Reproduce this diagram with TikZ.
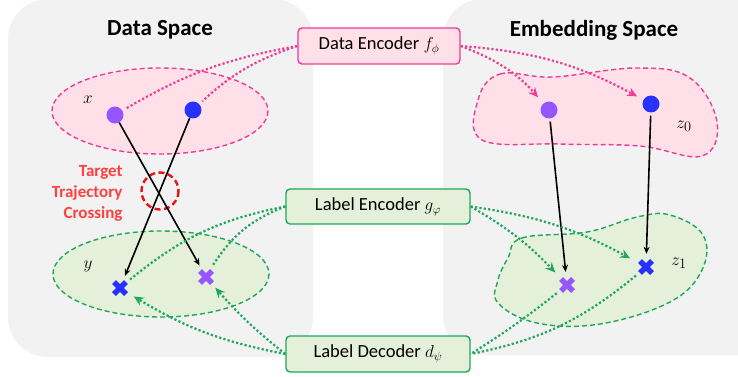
\documentclass[tikz,border=0pt]{standalone}
\usepackage{fontspec}
\setmainfont{Carlito}
\usetikzlibrary{arrows.meta}
\definecolor{panelgray}{RGB}{242,242,242}
\definecolor{pinkline}{RGB}{240,60,150}
\definecolor{pinkfill}{RGB}{255,224,233}
\definecolor{greenline}{RGB}{30,168,90}
\definecolor{greenfill}{RGB}{228,240,218}
\definecolor{redtext}{RGB}{255,64,64}
\definecolor{redcirc}{RGB}{232,20,20}
\definecolor{dotpurple}{RGB}{150,85,255}
\definecolor{dotblue}{RGB}{40,50,255}
\tikzset{
  panel/.style={fill=panelgray, draw=none, rounded corners=40pt},
  title/.style={font=\fontsize{23}{27}\selectfont\bfseries},
  pinkbox/.style={draw=pinkline, fill=pinkfill, line width=1.4pt, rounded corners=4pt, font=\fontsize{18.5}{22}\selectfont, inner sep=0pt},
  greenbox/.style={draw=greenline, fill=greenfill, line width=1.4pt, rounded corners=4pt, font=\fontsize{18.5}{22}\selectfont, inner sep=0pt},
  pinkregion/.style={draw=pinkline, fill=pinkfill, line width=1.4pt, dash pattern=on 5pt off 3pt},
  greenregion/.style={draw=greenline, fill=greenfill, line width=1.4pt, dash pattern=on 5pt off 3pt},
  dotnode/.style={circle, fill=#1, minimum size=17pt, inner sep=0pt},
  crossnode/.style={circle, minimum size=26pt, inner sep=0pt},
  pdot/.style={draw=pinkline, line width=2.2pt, dash pattern=on 2.2pt off 2.2pt},
  gdot/.style={draw=greenline, line width=2.2pt, dash pattern=on 2.2pt off 2.2pt},
  tip/.style={-{Stealth[length=10pt,width=9pt,inset=3.5pt]}},
  traj/.style={black, line width=1.6pt, -{Stealth[length=7pt,width=6pt]}},
  mathlbl/.style={font=\fontsize{19}{22}\selectfont},
}
\newcommand{\crossat}[2]{\draw[line width=5.4pt,#2] ([shift={(-6,-6)}]#1.center) -- ([shift={(6,6)}]#1.center) ([shift={(6,-6)}]#1.center) -- ([shift={(-6,6)}]#1.center);}
\begin{document}
\begin{tikzpicture}[x=1pt,y=-1pt]
\useasboundingbox (0,0) rectangle (738,377);
% panels
\fill[panel] (8,-1) rectangle (313,357);
\fill[panel] (443,-1) rectangle (780,355);
\node[title] (t1) at (160,30) {Data Space};
\node[title] (t2) at (594,30) {Embedding Space};
% regions
\draw[pinkregion] (160,111) ellipse [x radius=108, y radius=43];
\draw[greenregion] (161,274) ellipse [x radius=108, y radius=43];
\draw[pinkregion] plot[smooth cycle, tension=0.65] coordinates {(478,100) (500,74) (553,77) (637,68) (690,78) (717,122) (702,156) (640,146) (560,144) (482,140)};
\draw[greenregion] plot[smooth cycle, tension=0.65] coordinates {(508,258) (522,238) (587,232) (637,217) (670,215) (703,235) (702,270) (670,302) (600,324) (537,323) (498,303) (498,280)};
% labels
\node[mathlbl] (lx) at (88,100) {$x$};
\node[mathlbl] (ly) at (88,266) {$y$};
\node[mathlbl] (lz0) at (684,126) {$z_0$};
\node[mathlbl] (lz1) at (679,263) {$z_1$};
% red crossing
\draw[redcirc, line width=2.4pt, dash pattern=on 6pt off 3.5pt] (160,191) circle (18.5);
\node[anchor=east, align=right, text=redtext, font=\fontsize{17}{21}\selectfont\bfseries] (tc) at (126,193) {Target\\Trajectory\\Crossing};
% dots and crosses
\node[dotnode=dotpurple] (xp) at (115,115) {};
\node[dotnode=dotblue] (xb) at (193,110) {};
\node[dotnode=dotpurple] (zp) at (549,110) {};
\node[dotnode=dotblue] (zb) at (651,104) {};
\node[crossnode] (yp) at (206,277) {};
\node[crossnode] (yb) at (120,288) {};
\node[crossnode] (cp) at (567,285) {};
\node[crossnode] (cb) at (646,267) {};
\crossat{yp}{dotpurple}
\crossat{yb}{dotblue}
\crossat{cp}{dotpurple}
\crossat{cb}{dotblue}
% trajectories
\draw[traj] (xp) -- (yp);
\draw[traj] (xb) -- (yb);
\draw[traj, shorten <=3pt] (zp) -- (cp);
\draw[traj, shorten <=3pt] (zb) -- (cb);
% boxes
\node[pinkbox, minimum width=162pt, minimum height=36pt] (de) at (379,46) {Data Encoder $f_\phi$};
\node[greenbox, minimum width=184pt, minimum height=35pt] (le) at (378,206.5) {Label Encoder $g_\varphi$};
\node[greenbox, minimum width=184pt, minimum height=36pt] (ld) at (378,354) {Label Decoder $d_\psi$};
% pink connectors
\draw[pdot, shorten >=5pt] (de.west) to[bend right=10] (xp);
\draw[pdot, shorten >=4pt] (de.west) to[bend right=12] (xb);
\draw[pdot, tip, shorten >=8pt] (de.east) to[bend left=14] (zp);
\draw[pdot, tip, shorten >=7pt] (de.east) to[bend left=12] (zb);
% green connectors (encoder)
\draw[gdot] (le.west) to[bend right=14] (yb);
\draw[gdot] (le.west) to[bend right=18] (yp);
\draw[gdot, tip, shorten >=4pt] (le.east) to[bend left=8] (cp);
\draw[gdot, tip, shorten >=5pt] (le.east) to[bend left=10] (cb);
% green connectors (decoder)
\draw[gdot, tip, shorten >=3pt] (ld.west) to[bend left=10] (yb);
\draw[gdot, tip, shorten >=1pt] (ld.west) to[bend left=5] (yp);
\draw[gdot] (cp) to[bend left=3] (ld.east);
\draw[gdot] (cb) to[bend left=14] (ld.east);
\end{tikzpicture}
\end{document}
